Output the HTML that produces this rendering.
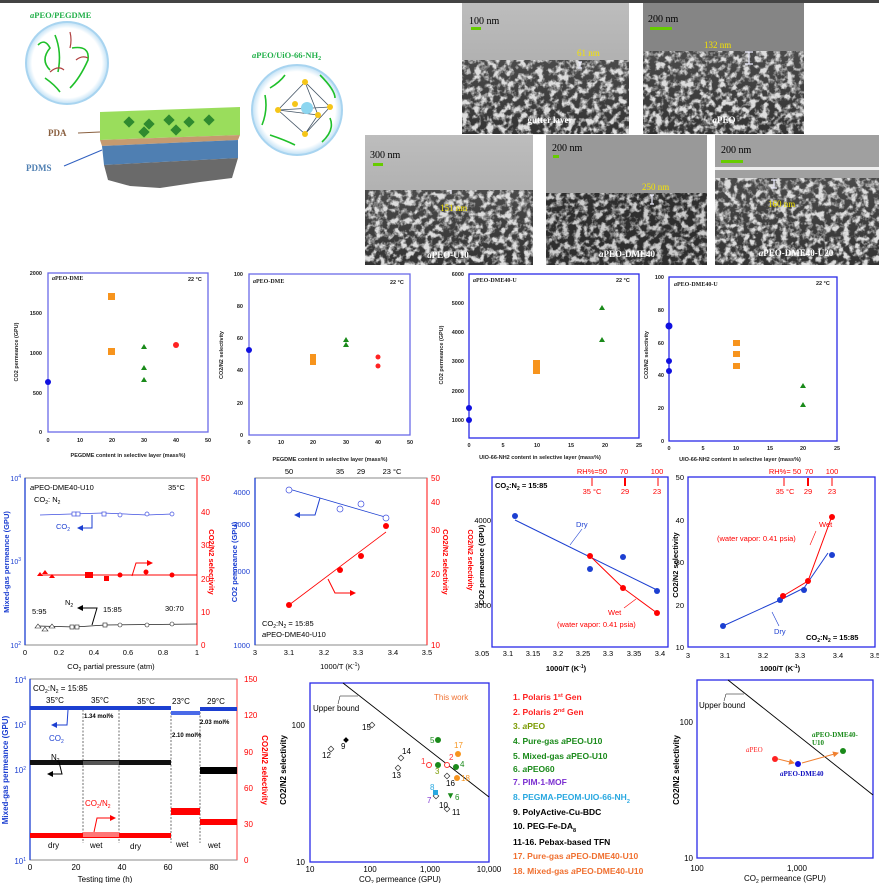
<!DOCTYPE html>
<html><head><meta charset="utf-8"><style>
html,body{margin:0;padding:0;background:#fff;}
svg{display:block;font-family:"Liberation Sans",Arial,sans-serif;}
.s{font-family:"Liberation Serif",serif;font-weight:bold;}
</style></head><body>
<svg width="879" height="883" viewBox="0 0 879 883" xmlns="http://www.w3.org/2000/svg">
<defs>
<filter id="tex" x="0" y="0" width="100%" height="100%">
<feTurbulence type="fractalNoise" baseFrequency="0.16" numOctaves="3" seed="4"/>
<feColorMatrix type="matrix" values="0 0 0 0 0.72  0 0 0 0 0.72  0 0 0 0 0.72  4 0 0 0 -1.7"/>
</filter>
<linearGradient id="gl" x1="0" y1="0" x2="0" y2="1"><stop offset="0" stop-color="#bdbdbd"/><stop offset="1" stop-color="#a2a2a2"/></linearGradient>
<linearGradient id="gd" x1="0" y1="0" x2="0" y2="1"><stop offset="0" stop-color="#4a4a4a"/><stop offset="1" stop-color="#333"/></linearGradient>
<radialGradient id="cg"><stop offset="0.85" stop-color="#fff"/><stop offset="1" stop-color="#bfe0f5"/></radialGradient>
<marker id="ab" markerWidth="6" markerHeight="6" refX="5" refY="3" orient="auto"><path d="M0,0L6,3L0,6z" fill="#1c3fd1"/></marker>
<marker id="ar" markerWidth="6" markerHeight="6" refX="5" refY="3" orient="auto"><path d="M0,0L6,3L0,6z" fill="#f00"/></marker>
<marker id="ak" markerWidth="6" markerHeight="6" refX="5" refY="3" orient="auto"><path d="M0,0L6,3L0,6z" fill="#000"/></marker>
<marker id="ao" markerWidth="6" markerHeight="6" refX="5" refY="3" orient="auto"><path d="M0,0L6,3L0,6z" fill="#f08030"/></marker>
</defs>
<rect x="0" y="0" width="879" height="3" fill="#444"/>

<!-- illustration -->
<text x="30" y="18" class="s" font-size="8.5" fill="#22b04a"><tspan font-style="italic">a</tspan>PEO/PEGDME</text>
<circle cx="67" cy="63" r="41" fill="url(#cg)" stroke="#a8d4f0" stroke-width="2"/>
<path d="M38,45 Q45,38 50,48 Q40,60 50,70 M55,35 Q62,52 58,72 M72,48 Q90,45 88,60 Q80,78 70,88 M45,78 Q55,85 60,92" stroke="#1fc02a" stroke-width="1.6" fill="none"/>
<path d="M50,72 Q58,65 64,70 M76,60 Q82,55 88,58 M70,32 Q72,40 70,48" stroke="#b04040" stroke-width="1.2" fill="none"/>
<polygon points="100,112 240,107 240,135 100,140" fill="#8fd94a" opacity="0.9"/>
<polygon points="100,140 240,135 238,140 102,146" fill="#c59a70"/>
<polygon points="102,146 238,140 238,158 104,165" fill="#4f7fb2"/>
<path d="M104,165 L238,158 L232,178 L200,182 L160,188 L130,186 L108,180z" fill="#6a6a6a"/>
<g fill="#2f8a2f"><rect x="125" y="118" width="8" height="8" transform="rotate(45 129 122)"/><rect x="145" y="120" width="8" height="8" transform="rotate(45 149 124)"/><rect x="165" y="116" width="8" height="8" transform="rotate(45 169 120)"/><rect x="185" y="118" width="8" height="8" transform="rotate(45 189 122)"/><rect x="205" y="116" width="8" height="8" transform="rotate(45 209 120)"/><rect x="140" y="128" width="8" height="8" transform="rotate(45 144 132)"/><rect x="172" y="126" width="8" height="8" transform="rotate(45 176 130)"/></g>
<text x="48" y="136" class="s" font-size="9" fill="#8a6040">PDA</text>
<line x1="78" y1="133" x2="100" y2="132" stroke="#8a6040"/>
<text x="26" y="171" class="s" font-size="9" fill="#4f7fb2">PDMS</text>
<line x1="64" y1="166" x2="102" y2="150" stroke="#3060c0"/>
<text x="252" y="58" class="s" font-size="8.5" fill="#22b04a"><tspan font-style="italic">a</tspan>PEO/UiO-66-NH<tspan font-size="6" dy="2">2</tspan></text>
<circle cx="297" cy="110" r="45" fill="url(#cg)" stroke="#a8d4f0" stroke-width="2"/>
<path d="M305,82 L278,110 L305,134 L330,107z M305,82 L318,115 L305,134 M278,110 L318,115 M278,110 L330,107" stroke="#456" stroke-width="0.8" fill="none"/>
<circle cx="307" cy="108" r="6" fill="#8dd6f0"/>
<g fill="#f5c518"><circle cx="305" cy="82" r="3"/><circle cx="278" cy="110" r="3"/><circle cx="305" cy="134" r="3"/><circle cx="330" cy="107" r="3"/><circle cx="318" cy="115" r="3"/><circle cx="295" cy="104" r="3"/></g>
<path d="M265,95 Q268,110 262,125 M270,88 Q280,82 285,75 M320,75 Q335,90 335,98 M330,118 Q335,130 322,142 M270,135 Q285,140 295,145" stroke="#1fc02a" stroke-width="1.6" fill="none"/>

<!-- SEM images -->
<g>
<rect x="462" y="3" width="167" height="131" fill="url(#gl)"/><rect x="462" y="60" width="167" height="74" fill="url(#gd)"/><rect x="462" y="60" width="167" height="74" filter="url(#tex)"/>
<rect x="643" y="3" width="161" height="131" fill="#858585"/><rect x="643" y="51" width="161" height="83" fill="url(#gd)"/><rect x="643" y="51" width="161" height="83" filter="url(#tex)"/>
<rect x="365" y="135" width="168" height="130" fill="url(#gl)"/><rect x="365" y="190" width="168" height="75" fill="url(#gd)"/><rect x="365" y="190" width="168" height="75" filter="url(#tex)"/>
<rect x="546" y="135" width="161" height="130" fill="#999"/><rect x="546" y="193" width="161" height="72" fill="#2e2e2e"/><rect x="546" y="193" width="161" height="72" filter="url(#tex)" opacity="0.9"/>
<rect x="715" y="135" width="164" height="130" fill="#a0a0a0"/><rect x="715" y="167" width="164" height="3" fill="#eee"/><rect x="715" y="178" width="164" height="87" fill="url(#gd)"/><rect x="715" y="178" width="164" height="87" filter="url(#tex)"/>
</g>
<g font-family="Liberation Serif,serif" font-size="10" fill="#000">
<text x="469" y="24">100 nm</text><rect x="471" y="27" width="10" height="3" fill="#66cc00"/>
<text x="648" y="22">200 nm</text><rect x="650" y="27" width="22" height="3" fill="#66cc00"/>
<text x="370" y="158">300 nm</text><rect x="373" y="163" width="10" height="3" fill="#66cc00"/>
<text x="552" y="151">200 nm</text><rect x="553" y="155" width="6" height="3" fill="#66cc00"/>
<text x="721" y="153">200 nm</text><rect x="721" y="160" width="22" height="3" fill="#66cc00"/>
</g>
<g font-family="Liberation Serif,serif" font-size="9" fill="#f5e400">
<text x="577" y="56">61 nm</text><text x="704" y="48">132 nm</text><text x="440" y="211">151 nm</text><text x="642" y="190">250 nm</text><text x="768" y="207">160 nm</text></g>
<g stroke="#eef" stroke-width="1.2" fill="none"><path d="M580,62v6M578,62h4M578,68h4"/><path d="M749,52v12M745,52h8M745,64h8"/><path d="M451,190v4"/><path d="M652,195v9M650,195h4M650,204h4"/><path d="M774,180v8M771,180h6M771,188h6"/></g>
<g class="s" font-size="9" fill="#fff" text-anchor="middle">
<text x="550" y="123">gutter layer</text><text x="724" y="123"><tspan font-style="italic">a</tspan>PEO</text><text x="448" y="258"><tspan font-style="italic">a</tspan>PEO-U10</text><text x="627" y="257"><tspan font-style="italic">a</tspan>PEO-DME40</text><text x="796" y="256"><tspan font-style="italic">a</tspan>PEO-DME40-U20</text></g>

<!-- Row 2 charts -->
<g font-size="5.5" font-weight="bold" fill="#222">
<rect x="48" y="273" width="160" height="159" fill="none" stroke="#6a6ae8" stroke-width="1.3"/>
<text x="42" y="275" text-anchor="end">2000</text><text x="42" y="315" text-anchor="end">1500</text><text x="42" y="355" text-anchor="end">1000</text><text x="42" y="395" text-anchor="end">500</text><text x="42" y="434" text-anchor="end">0</text>
<text x="48" y="442" text-anchor="middle">0</text><text x="80" y="442" text-anchor="middle">10</text><text x="112" y="442" text-anchor="middle">20</text><text x="144" y="442" text-anchor="middle">30</text><text x="176" y="442" text-anchor="middle">40</text><text x="208" y="442" text-anchor="middle">50</text>
<text x="128" y="457" text-anchor="middle">PEGDME content in selective layer (mass%)</text>
<text transform="translate(18,352) rotate(-90)" text-anchor="middle">CO2 permeance (GPU)</text>
<text x="52" y="280" class="s" font-size="6"><tspan font-style="italic">a</tspan>PEO-DME</text><text x="188" y="281">22 °C</text>
<circle cx="48" cy="382" r="3" fill="#1010e0"/><rect x="108" y="293" width="7" height="7" fill="#f7941d"/><rect x="108" y="348" width="7" height="7" fill="#f7941d"/>
<path d="M144,344l3,5h-6z M144,365l3,5h-6z M144,377l3,5h-6z" fill="#1a8a1a"/><circle cx="176" cy="345" r="3" fill="#f22"/>
<rect x="249" y="274" width="161" height="161" fill="none" stroke="#6a6ae8" stroke-width="1.3"/>
<text x="243" y="276" text-anchor="end">100</text><text x="243" y="308" text-anchor="end">80</text><text x="243" y="340" text-anchor="end">60</text><text x="243" y="372" text-anchor="end">40</text><text x="243" y="405" text-anchor="end">20</text><text x="243" y="437" text-anchor="end">0</text>
<text x="249" y="444" text-anchor="middle">0</text><text x="281" y="444" text-anchor="middle">10</text><text x="313" y="444" text-anchor="middle">20</text><text x="346" y="444" text-anchor="middle">30</text><text x="378" y="444" text-anchor="middle">40</text><text x="410" y="444" text-anchor="middle">50</text>
<text x="330" y="461" text-anchor="middle">PEGDME content in selective layer (mass%)</text>
<text transform="translate(223,355) rotate(-90)" text-anchor="middle">CO2/N2 selectivity</text>
<text x="253" y="283" class="s" font-size="6"><tspan font-style="italic">a</tspan>PEO-DME</text><text x="390" y="284">22 °C</text>
<circle cx="249" cy="350" r="3" fill="#1010e0"/><rect x="310" y="354" width="6" height="6" fill="#f7941d"/><rect x="310" y="359" width="6" height="6" fill="#f7941d"/>
<path d="M346,337l3,5h-6z M346,342l3,5h-6z" fill="#1a8a1a"/><circle cx="378" cy="357" r="2.5" fill="#f22"/><circle cx="378" cy="366" r="2.5" fill="#f22"/>
<rect x="469" y="274" width="170" height="164" fill="none" stroke="#2a2ae8" stroke-width="1.3"/>
<text x="464" y="276" text-anchor="end">6000</text><text x="464" y="305" text-anchor="end">5000</text><text x="464" y="334" text-anchor="end">4000</text><text x="464" y="363" text-anchor="end">3000</text><text x="464" y="393" text-anchor="end">2000</text><text x="464" y="422" text-anchor="end">1000</text>
<text x="469" y="447" text-anchor="middle">0</text><text x="503" y="447" text-anchor="middle">5</text><text x="537" y="447" text-anchor="middle">10</text><text x="571" y="447" text-anchor="middle">15</text><text x="605" y="447" text-anchor="middle">20</text><text x="639" y="447" text-anchor="middle">25</text>
<text x="540" y="459" text-anchor="middle">UIO-66-NH2 content in selective layer (mass%)</text>
<text transform="translate(443,355) rotate(-90)" text-anchor="middle">CO2 permeance (GPU)</text>
<text x="473" y="282" class="s" font-size="6"><tspan font-style="italic">a</tspan>PEO-DME40-U</text><text x="616" y="282">22 °C</text>
<circle cx="469" cy="408" r="3" fill="#1010e0"/><circle cx="469" cy="420" r="3" fill="#1010e0"/><rect x="533" y="360" width="7" height="14" fill="#f7941d"/>
<path d="M602,305l3,5h-6z M602,337l3,5h-6z" fill="#1a8a1a"/>
<rect x="669" y="277" width="168" height="164" fill="none" stroke="#2a2ae8" stroke-width="1.3"/>
<text x="664" y="279" text-anchor="end">100</text><text x="664" y="312" text-anchor="end">80</text><text x="664" y="345" text-anchor="end">60</text><text x="664" y="377" text-anchor="end">40</text><text x="664" y="410" text-anchor="end">20</text><text x="664" y="443" text-anchor="end">0</text>
<text x="669" y="450" text-anchor="middle">0</text><text x="703" y="450" text-anchor="middle">5</text><text x="736" y="450" text-anchor="middle">10</text><text x="770" y="450" text-anchor="middle">15</text><text x="803" y="450" text-anchor="middle">20</text><text x="837" y="450" text-anchor="middle">25</text>
<text x="740" y="461" text-anchor="middle">UIO-66-NH2 content in selective layer (mass%)</text>
<text transform="translate(648,355) rotate(-90)" text-anchor="middle">CO2/N2 selectivity</text>
<text x="674" y="286" class="s" font-size="6"><tspan font-style="italic">a</tspan>PEO-DME40-U</text><text x="816" y="285">22 °C</text>
<circle cx="669" cy="326" r="3.5" fill="#1010e0"/><circle cx="669" cy="361" r="3" fill="#1010e0"/><circle cx="669" cy="371" r="3" fill="#1010e0"/>
<rect x="733" y="340" width="7" height="6" fill="#f7941d"/><rect x="733" y="351" width="7" height="6" fill="#f7941d"/><rect x="733" y="363" width="7" height="6" fill="#f7941d"/>
<path d="M803,383l3,5h-6z M803,402l3,5h-6z" fill="#1a8a1a"/>
</g>

<!-- Row 3 -->
<g font-size="8">
<rect x="25" y="478" width="172" height="167" fill="none" stroke="#888" stroke-width="1"/>
<line x1="25" y1="478" x2="25" y2="645" stroke="#1c3fd1" stroke-width="1.3"/><line x1="197" y1="478" x2="197" y2="645" stroke="#f44" stroke-width="1.3"/>
<g fill="#1c3fd1" font-size="7" text-anchor="end"><text x="21" y="481">10<tspan font-size="5" dy="-3">4</tspan></text><text x="21" y="564">10<tspan font-size="5" dy="-3">3</tspan></text><text x="21" y="648">10<tspan font-size="5" dy="-3">2</tspan></text></g>
<g fill="#f00" font-size="8"><text x="201" y="481">50</text><text x="201" y="515">40</text><text x="201" y="548">30</text><text x="201" y="582">20</text><text x="201" y="615">10</text><text x="201" y="648">0</text></g>
<g font-size="7.5" text-anchor="middle"><text x="25" y="655">0</text><text x="59" y="655">0.2</text><text x="94" y="655">0.4</text><text x="128" y="655">0.6</text><text x="163" y="655">0.8</text><text x="197" y="655">1</text></g>
<text x="111" y="669" text-anchor="middle" font-size="7.5">CO<tspan font-size="5" dy="2">2</tspan><tspan dy="-2"> partial pressure (atm)</tspan></text>
<text transform="translate(9,562) rotate(-90)" text-anchor="middle" fill="#1c3fd1" font-weight="bold" font-size="7.5">Mixed-gas permeance (GPU)</text>
<text transform="translate(209,562) rotate(90)" text-anchor="middle" fill="#f00" font-weight="bold" font-size="7.5">CO2/N2 selectivity</text>
<text x="30" y="490" font-size="7.5"><tspan font-style="italic">a</tspan>PEO-DME40-U10</text><text x="168" y="490" font-size="7.5">35°C</text>
<text x="34" y="502" font-size="7.5">CO<tspan font-size="5" dy="2">2</tspan><tspan dy="-2">: N</tspan><tspan font-size="5" dy="2">2</tspan></text>
<polyline points="40,515 103,513 147,515 172,514" stroke="#4050e0" stroke-width="0.8" fill="none"/>
<g stroke="#4050e0" stroke-width="0.7" fill="#fff"><circle cx="120" cy="515" r="2"/><circle cx="147" cy="514" r="2"/><circle cx="172" cy="514" r="2"/><rect x="72" y="512" width="4" height="4"/><rect x="102" y="512" width="4" height="4"/><rect x="76" y="512" width="4" height="4"/></g>
<text x="56" y="529" fill="#1c3fd1" font-size="7.5">CO<tspan font-size="5" dy="2">2</tspan></text><path d="M92,515 L92,528 L78,528" stroke="#1c3fd1" fill="none" marker-end="url(#ab)"/>
<line x1="38" y1="575" x2="197" y2="575" stroke="#f00" stroke-width="0.9"/>
<g fill="#f00"><path d="M40,572l3,4h-6z M45,570l3,4h-6z M52,574l3,4h-6z"/><rect x="85" y="572" width="8" height="6"/><rect x="104" y="576" width="5" height="5"/><circle cx="120" cy="575" r="2.5"/><circle cx="146" cy="572" r="2.5"/><circle cx="172" cy="575" r="2.5"/></g>
<path d="M132,576 L136,563 L152,563" stroke="#f00" fill="none" marker-end="url(#ar)"/>
<polyline points="38,626 75,627 105,625 197,624" stroke="#222" stroke-width="0.7" fill="none"/>
<g stroke="#222" stroke-width="0.6" fill="#fff"><path d="M38,624l3,4h-6z M45,627l3,4h-6z M52,624l3,4h-6z"/><rect x="70" y="625" width="4" height="4"/><rect x="75" y="625" width="4" height="4"/><rect x="103" y="623" width="4" height="4"/><circle cx="120" cy="625" r="2"/><circle cx="147" cy="625" r="2"/><circle cx="172" cy="624" r="2"/></g>
<text x="65" y="605" font-size="7.5">N<tspan font-size="5" dy="2">2</tspan></text><path d="M92,625 L97,608 L78,608" stroke="#000" fill="none" marker-end="url(#ak)"/>
<text x="32" y="614" font-size="7.5">5:95</text><text x="103" y="612" font-size="7.5">15:85</text><text x="165" y="611" font-size="7.5">30:70</text>
<rect x="255" y="478" width="172" height="167" fill="none" stroke="#888"/>
<line x1="255" y1="478" x2="255" y2="645" stroke="#1c3fd1" stroke-width="1.3"/><line x1="427" y1="478" x2="427" y2="645" stroke="#f44" stroke-width="1.3"/>
<g fill="#1c3fd1" font-size="7.5" text-anchor="end"><text x="250" y="495">4000</text><text x="250" y="527">3000</text><text x="250" y="574">2000</text><text x="250" y="648">1000</text></g>
<g fill="#f00" font-size="8"><text x="431" y="481">50</text><text x="431" y="505">40</text><text x="431" y="533">30</text><text x="431" y="577">20</text><text x="431" y="648">10</text></g>
<g font-size="7.5" text-anchor="middle"><text x="255" y="655">3</text><text x="289" y="655">3.1</text><text x="324" y="655">3.2</text><text x="358" y="655">3.3</text><text x="393" y="655">3.4</text><text x="427" y="655">3.5</text></g>
<text x="340" y="669" text-anchor="middle" font-size="7.5">1000/T (K<tspan font-size="5" dy="-3">-1</tspan><tspan dy="3">)</tspan></text>
<g font-size="7.5" text-anchor="middle"><text x="289" y="474">50</text><text x="340" y="474">35</text><text x="361" y="474">29</text><text x="392" y="474">23 °C</text></g>
<text transform="translate(237,562) rotate(-90)" text-anchor="middle" fill="#1c3fd1" font-size="7.5" font-weight="bold">CO2 permeance (GPU)</text>
<text transform="translate(443,562) rotate(90)" text-anchor="middle" fill="#f00" font-size="7.5" font-weight="bold">CO2/N2 selectivity</text>
<line x1="289" y1="489" x2="385" y2="517" stroke="#1c3fd1" stroke-width="0.8"/>
<g stroke="#4050e0" fill="#fff" stroke-width="0.7"><circle cx="289" cy="490" r="3"/><circle cx="340" cy="509" r="3"/><circle cx="361" cy="504" r="3"/><circle cx="386" cy="518" r="3"/></g>
<path d="M320,498 L315,515 L295,515" stroke="#1c3fd1" stroke-width="1" fill="none" marker-end="url(#ab)"/>
<line x1="289" y1="605" x2="386" y2="532" stroke="#f00" stroke-width="0.8"/>
<g fill="#f00"><circle cx="289" cy="605" r="3"/><circle cx="340" cy="570" r="3"/><circle cx="361" cy="556" r="3"/><circle cx="386" cy="526" r="3"/></g>
<path d="M328,579 L335,593 L355,593" stroke="#f00" fill="none" marker-end="url(#ar)"/>
<text x="262" y="626" font-size="7.5">CO<tspan font-size="5" dy="2">2</tspan><tspan dy="-2">:N</tspan><tspan font-size="5" dy="2">2</tspan><tspan dy="-2"> = 15:85</tspan></text>
<text x="262" y="637" font-size="7.5"><tspan font-style="italic">a</tspan>PEO-DME40-U10</text>
<rect x="492" y="477" width="176" height="170" fill="none" stroke="#2a2ae8" stroke-width="1.3"/>
<g font-size="7.5" text-anchor="middle"><text x="482" y="656">3.05</text><text x="508" y="656">3.1</text><text x="533" y="656">3.15</text><text x="558" y="656">3.2</text><text x="583" y="656">3.25</text><text x="608" y="656">3.3</text><text x="634" y="656">3.35</text><text x="660" y="656">3.4</text></g>
<g font-size="7.5" text-anchor="end"><text x="491" y="523">4000</text><text x="491" y="608">3000</text></g>
<text x="566" y="671" text-anchor="middle" font-size="7.5" font-weight="bold">1000/T (K<tspan font-size="5" dy="-3">-1</tspan><tspan dy="3">)</tspan></text>
<text transform="translate(484,565) rotate(-90)" text-anchor="middle" font-size="7.5" font-weight="bold">CO2 permeance (GPU)</text>
<text transform="translate(468,560) rotate(90)" text-anchor="middle" fill="#f00" font-size="7" font-weight="bold">CO2/N2 selectivity</text>
<g fill="#f00" font-size="7.5" text-anchor="middle"><text x="592" y="474">RH%=50</text><text x="624" y="474">70</text><text x="657" y="474">100</text><text x="592" y="494">35 °C</text><text x="625" y="494">29</text><text x="657" y="494">23</text></g>
<g stroke="#f00"><line x1="592" y1="478" x2="592" y2="486"/><line x1="625" y1="478" x2="625" y2="486" stroke-width="2"/><line x1="658" y1="478" x2="658" y2="486"/></g>
<text x="495" y="488" font-size="7.5" font-weight="bold">CO<tspan font-size="5" dy="2">2</tspan><tspan dy="-2">:N</tspan><tspan font-size="5" dy="2">2</tspan><tspan dy="-2"> = 15:85</tspan></text>
<line x1="515" y1="520" x2="657" y2="590" stroke="#1c3fd1"/>
<g fill="#1c3fd1"><circle cx="515" cy="516" r="3"/><circle cx="590" cy="569" r="3"/><circle cx="623" cy="557" r="3"/><circle cx="657" cy="591" r="3"/></g>
<polyline points="590,556 623,588 657,613" stroke="#f00" fill="none"/>
<g fill="#f00"><circle cx="590" cy="556" r="3"/><circle cx="623" cy="588" r="3"/><circle cx="657" cy="613" r="3"/></g>
<text x="576" y="527" fill="#1c3fd1" font-size="7.5">Dry</text><line x1="582" y1="529" x2="570" y2="545" stroke="#1c3fd1" stroke-width="0.6"/>
<text x="608" y="615" fill="#f00" font-size="7.5">Wet</text><text x="557" y="627" fill="#f00" font-size="7.5">(water vapor: 0.41 psia)</text><line x1="624" y1="608" x2="636" y2="599" stroke="#f00" stroke-width="0.6"/>
<rect x="688" y="477" width="187" height="170" fill="none" stroke="#2a2ae8" stroke-width="1.3"/>
<g font-size="7.5" text-anchor="end"><text x="684" y="480">50</text><text x="684" y="523">40</text><text x="684" y="565">30</text><text x="684" y="608">20</text><text x="684" y="650">10</text></g>
<g font-size="7.5" text-anchor="middle"><text x="688" y="658">3</text><text x="725" y="658">3.1</text><text x="763" y="658">3.2</text><text x="800" y="658">3.3</text><text x="838" y="658">3.4</text><text x="875" y="658">3.5</text></g>
<text x="780" y="671" text-anchor="middle" font-size="7.5" font-weight="bold">1000/T (K<tspan font-size="5" dy="-3">-1</tspan><tspan dy="3">)</tspan></text>
<text transform="translate(678,565) rotate(-90)" text-anchor="middle" font-size="7.5" font-weight="bold">CO2/N2 selectivity</text>
<g fill="#f00" font-size="7.5" text-anchor="middle"><text x="785" y="474">RH%= 50</text><text x="809" y="474">70</text><text x="832" y="474">100</text><text x="785" y="494">35 °C</text><text x="808" y="494">29</text><text x="832" y="494">23</text></g>
<g stroke="#f00"><line x1="784" y1="478" x2="784" y2="486"/><line x1="808" y1="478" x2="808" y2="486" stroke-width="2"/><line x1="832" y1="478" x2="832" y2="486"/></g>
<polyline points="723,626 780,600 804,588 828,553" stroke="#1c3fd1" fill="none"/>
<g fill="#1c3fd1"><circle cx="723" cy="626" r="3"/><circle cx="780" cy="600" r="3"/><circle cx="804" cy="590" r="3"/><circle cx="832" cy="555" r="3"/></g>
<polyline points="783,596 808,581 832,516" stroke="#f00" fill="none"/>
<g fill="#f00"><circle cx="783" cy="596" r="3"/><circle cx="808" cy="581" r="3"/><circle cx="832" cy="517" r="3"/></g>
<text x="819" y="527" fill="#f00" font-size="7.5">Wet</text><text x="717" y="541" fill="#f00" font-size="7.5">(water vapor: 0.41 psia)</text><line x1="816" y1="531" x2="810" y2="545" stroke="#f00" stroke-width="0.6"/>
<text x="774" y="634" fill="#1c3fd1" font-size="7.5">Dry</text><line x1="779" y1="626" x2="772" y2="612" stroke="#1c3fd1" stroke-width="0.6"/>
<text x="806" y="640" font-size="7.5" font-weight="bold">CO<tspan font-size="5" dy="2">2</tspan><tspan dy="-2">:N</tspan><tspan font-size="5" dy="2">2</tspan><tspan dy="-2"> = 15:85</tspan></text>
</g>

<!-- Row 4 -->
<g font-size="8">
<rect x="30" y="679" width="207" height="181" fill="none" stroke="#888"/>
<line x1="30" y1="679" x2="30" y2="860" stroke="#1c3fd1" stroke-width="1.3"/><line x1="237" y1="679" x2="237" y2="860" stroke="#f66" stroke-width="1.3"/>
<g fill="#1c3fd1" font-size="8" text-anchor="end"><text x="26" y="683">10<tspan font-size="5" dy="-3">4</tspan></text><text x="26" y="728">10<tspan font-size="5" dy="-3">3</tspan></text><text x="26" y="773">10<tspan font-size="5" dy="-3">2</tspan></text><text x="26" y="864">10<tspan font-size="5" dy="-3">1</tspan></text></g>
<g fill="#f00" font-size="8"><text x="244" y="682">150</text><text x="244" y="718">120</text><text x="244" y="755">90</text><text x="244" y="791">60</text><text x="244" y="827">30</text><text x="244" y="863">0</text></g>
<g font-size="8" text-anchor="middle"><text x="30" y="870">0</text><text x="76" y="870">20</text><text x="122" y="870">40</text><text x="168" y="870">60</text><text x="214" y="870">80</text></g>
<text x="105" y="882" text-anchor="middle" font-size="8">Testing time (h)</text>
<text transform="translate(8,770) rotate(-90)" text-anchor="middle" fill="#1c3fd1" font-weight="bold" font-size="8">Mixed-gas permeance (GPU)</text>
<text transform="translate(262,770) rotate(90)" text-anchor="middle" fill="#f00" font-weight="bold" font-size="8">CO2/N2 selectivity</text>
<text x="33" y="691" font-size="8">CO<tspan font-size="5" dy="2">2</tspan><tspan dy="-2">:N</tspan><tspan font-size="5" dy="2">2</tspan><tspan dy="-2"> = 15:85</tspan></text>
<g font-size="8"><text x="46" y="703">35°C</text><text x="91" y="703">35°C</text><text x="137" y="704">35°C</text><text x="172" y="704">23°C</text><text x="207" y="704">29°C</text></g>
<g stroke="#333" stroke-dasharray="2,1.5" stroke-width="0.7"><line x1="83" y1="706" x2="83" y2="843"/><line x1="119" y1="706" x2="119" y2="843"/><line x1="171" y1="712" x2="171" y2="843"/><line x1="200" y1="712" x2="200" y2="843"/></g>
<rect x="30" y="706" width="141" height="4" fill="#1c3fd1"/><rect x="171" y="711" width="29" height="4" fill="#4a6ae8"/><rect x="200" y="707" width="37" height="4" fill="#1c3fd1"/>
<rect x="30" y="760" width="141" height="5" fill="#111"/><rect x="83" y="761" width="36" height="4" fill="#555"/><rect x="200" y="767" width="37" height="7" fill="#000"/>
<rect x="30" y="833" width="141" height="5" fill="#f00"/><rect x="83" y="832" width="36" height="5" fill="#f77"/><rect x="171" y="808" width="29" height="7" fill="#f00"/><rect x="200" y="819" width="37" height="6" fill="#f00"/>
<g font-size="6" font-weight="bold"><text x="84" y="718">1.34 mol%</text><text x="200" y="724">2.03 mol%</text><text x="172" y="737">2.10 mol%</text></g>
<text x="49" y="741" fill="#1c3fd1" font-size="8">CO<tspan font-size="5" dy="2">2</tspan></text><path d="M68,710 L67,725 L52,725" stroke="#1c3fd1" fill="none" marker-end="url(#ab)"/>
<text x="51" y="760" font-size="8">N<tspan font-size="5" dy="2">2</tspan></text><path d="M59,762 L62,774 L48,774" stroke="#000" fill="none" marker-end="url(#ak)"/>
<text x="85" y="806" fill="#f00" font-size="8">CO<tspan font-size="5" dy="2">2</tspan><tspan dy="-2">/N</tspan><tspan font-size="5" dy="2">2</tspan></text><path d="M94,832 L97,818 L115,818" stroke="#f00" fill="none" marker-end="url(#ar)"/>
<g font-size="8"><text x="48" y="848">dry</text><text x="90" y="848">wet</text><text x="130" y="849">dry</text><text x="176" y="847">wet</text><text x="208" y="848">wet</text></g>
<rect x="310" y="683" width="179" height="179" fill="none" stroke="#2a2ae8" stroke-width="1.3"/>
<g font-size="8" text-anchor="end"><text x="305" y="728">100</text><text x="305" y="865">10</text></g>
<g font-size="8" text-anchor="middle"><text x="310" y="872">10</text><text x="370" y="872">100</text><text x="430" y="872">1,000</text><text x="489" y="872">10,000</text></g>
<text x="400" y="882" text-anchor="middle" font-size="8">CO<tspan font-size="5" dy="2">2</tspan><tspan dy="-2"> permeance (GPU)</tspan></text>
<text transform="translate(286,770) rotate(-90)" text-anchor="middle" font-size="8" font-weight="bold">CO2/N2 selectivity</text>
<line x1="343" y1="683" x2="489" y2="797" stroke="#000" stroke-width="0.9"/>
<text x="313" y="711" font-size="8">Upper bound</text><path d="M338,704 L340,696 L358,696" stroke="#000" stroke-width="0.5" fill="none"/>
<text x="434" y="700" fill="#f07030" font-size="8">This work</text>
<g stroke="#333" stroke-width="0.7" fill="#fff"><rect x="370" y="723" width="4" height="4" transform="rotate(45 372 725)"/><rect x="329" y="747" width="4" height="4" transform="rotate(45 331 749)"/><rect x="399" y="756" width="4" height="4" transform="rotate(45 401 758)"/><rect x="396" y="766" width="4" height="4" transform="rotate(45 398 768)"/><rect x="445" y="774" width="4" height="4" transform="rotate(45 447 776)"/><rect x="434" y="794" width="4" height="4" transform="rotate(45 436 796)"/><rect x="445" y="807" width="4" height="4" transform="rotate(45 447 809)"/></g>
<rect x="344" y="738" width="4" height="4" transform="rotate(45 346 740)" fill="#000"/>
<g font-size="8"><text x="362" y="730">15</text><text x="341" y="749">9</text><text x="322" y="758">12</text><text x="402" y="754">14</text><text x="392" y="778">13</text><text x="446" y="786">16</text><text x="439" y="808" >10</text><text x="452" y="815">11</text></g>
<circle cx="429" cy="765" r="2.5" fill="#fff" stroke="#f33"/><text x="421" y="764" fill="#f33">1</text>
<circle cx="447" cy="765" r="2.5" fill="#fff" stroke="#f33"/><text x="449" y="760" fill="#f33">2</text>
<circle cx="438" cy="740" r="3" fill="#1a8a1a"/><text x="430" y="743" fill="#1a8a1a">5</text>
<circle cx="438" cy="765" r="3" fill="#1a8a1a"/><text x="435" y="774" fill="#7a9a00">3</text>
<circle cx="456" cy="767" r="3" fill="#1a8a1a"/><text x="460" y="767" fill="#1a8a1a">4</text>
<circle cx="458" cy="754" r="3" fill="#f7941d"/><text x="454" y="748" fill="#f7941d">17</text>
<circle cx="457" cy="778" r="3" fill="#f7941d"/><text x="461" y="781" fill="#f7941d">18</text>
<rect x="433" y="790" width="5" height="5" fill="#29a8e0"/><text x="430" y="790" fill="#29a8e0">8</text>
<text x="427" y="803" fill="#7b2fd0">7</text><path d="M449,794l3,0l-1.5,3z" fill="#1a8a1a" stroke="#1a8a1a" stroke-width="1.5"/><text x="455" y="800" fill="#1a8a1a">6</text>
<g font-size="8.5" font-weight="bold">
<text x="513" y="700" fill="#f22">1. Polaris 1<tspan font-size="5.5" dy="-3">st</tspan><tspan dy="3"> Gen</tspan></text>
<text x="513" y="715" fill="#f22">2. Polaris 2<tspan font-size="5.5" dy="-3">nd</tspan><tspan dy="3"> Gen</tspan></text>
<text x="513" y="729" fill="#7a9a00">3. <tspan font-style="italic">a</tspan>PEO</text>
<text x="513" y="744" fill="#1a8a1a">4. Pure-gas <tspan font-style="italic">a</tspan>PEO-U10</text>
<text x="513" y="759" fill="#1a8a1a">5. Mixed-gas <tspan font-style="italic">a</tspan>PEO-U10</text>
<text x="513" y="772" fill="#1a8a1a">6. <tspan font-style="italic">a</tspan>PEO60</text>
<text x="513" y="785" fill="#7b2fd0">7. PIM-1-MOF</text>
<text x="513" y="800" fill="#29a8e0">8. PEGMA-PEOM-UIO-66-NH<tspan font-size="5.5" dy="3">2</tspan></text>
<text x="513" y="815" fill="#000">9. PolyActive-Cu-BDC</text>
<text x="513" y="829" fill="#000">10. PEG-Fe-DA<tspan font-size="5.5" dy="3">8</tspan></text>
<text x="513" y="845" fill="#000">11-16. Pebax-based TFN</text>
<text x="513" y="859" fill="#f07030">17. Pure-gas <tspan font-style="italic">a</tspan>PEO-DME40-U10</text>
<text x="513" y="874" fill="#f07030">18. Mixed-gas <tspan font-style="italic">a</tspan>PEO-DME40-U10</text>
</g>
<rect x="697" y="680" width="176" height="178" fill="none" stroke="#2a2ae8" stroke-width="1.3"/>
<g font-size="8" text-anchor="end"><text x="693" y="725">100</text><text x="693" y="861">10</text></g>
<g font-size="8" text-anchor="middle"><text x="697" y="871">100</text><text x="797" y="871">1,000</text></g>
<text x="785" y="881" text-anchor="middle" font-size="8">CO<tspan font-size="5" dy="2">2</tspan><tspan dy="-2"> permeance (GPU)</tspan></text>
<text transform="translate(679,770) rotate(-90)" text-anchor="middle" font-size="8" font-weight="bold">CO2/N2 selectivity</text>
<line x1="728" y1="680" x2="873" y2="795" stroke="#000" stroke-width="0.9"/>
<text x="699" y="708" font-size="8">Upper bound</text><path d="M724,701 L726,694 L744,694" stroke="#000" stroke-width="0.5" fill="none"/>
<circle cx="775" cy="759" r="3" fill="#f22"/><circle cx="798" cy="764" r="3" fill="#1010e0"/><circle cx="843" cy="751" r="3" fill="#1a8a1a"/>
<path d="M778,759 L794,763" stroke="#f08030" marker-end="url(#ao)"/><path d="M802,763 L838,753" stroke="#f08030" marker-end="url(#ao)"/>
<text x="746" y="752" fill="#f22" font-size="7" font-family="Liberation Serif,serif"><tspan font-style="italic">a</tspan>PEO</text>
<text x="780" y="776" fill="#1010c0" font-size="7" font-family="Liberation Serif,serif" font-weight="bold"><tspan font-style="italic">a</tspan>PEO-DME40</text>
<text x="812" y="737" fill="#1a8a1a" font-size="7" font-family="Liberation Serif,serif" font-weight="bold"><tspan font-style="italic">a</tspan>PEO-DME40-</text>
<text x="812" y="745" fill="#1a8a1a" font-size="7" font-family="Liberation Serif,serif" font-weight="bold">U10</text>
</g>
</svg>
</body></html>
